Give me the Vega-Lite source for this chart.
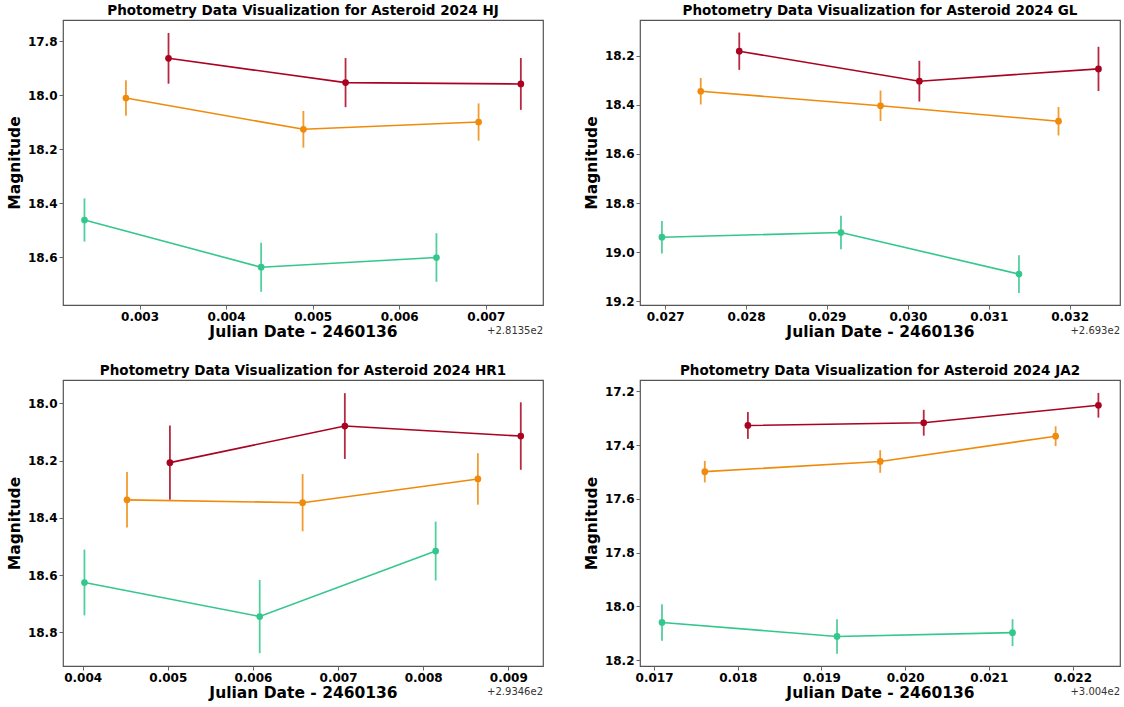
{
  "$schema": "https://vega.github.io/schema/vega-lite/v6.json",
  "background": "white",
  "padding": {"left": 6, "top": 2, "right": 5, "bottom": 2},
  "columns": 2,
  "spacing": {"row": 21, "column": 39},
  "config": {
    "font": "DejaVu Sans",
    "view": {"stroke": "#555555", "strokeWidth": 1.2},
    "axis": {
      "labelFont": "DejaVu Sans", "labelFontWeight": "bold", "labelFontSize": 12, "labelColor": "#000000",
      "titleFont": "DejaVu Sans", "titleFontSize": 15.5, "titleFontWeight": "bold", "titleColor": "#000000",
      "grid": false, "domain": false, "tickColor": "#666666", "tickSize": 4, "labelPadding": 2, "labelFlush": false, "labelOverlap": false
    },
    "axisX": {"titlePadding": 2},
    "axisY": {"titlePadding": 5},
    "title": {"font": "DejaVu Sans", "fontSize": 13.5, "fontWeight": "bold", "color": "#000000", "offset": 3, "anchor": "middle"}
  },
  "datasets": {
    "obs": [
      {"asteroid": "2024 HJ", "series": "A", "jd": 0.003335, "mag": 17.863, "err": 0.094},
      {"asteroid": "2024 HJ", "series": "A", "jd": 0.00538, "mag": 17.953, "err": 0.091},
      {"asteroid": "2024 HJ", "series": "A", "jd": 0.007405, "mag": 17.958, "err": 0.096},
      {"asteroid": "2024 HJ", "series": "B", "jd": 0.002843, "mag": 18.010, "err": 0.066},
      {"asteroid": "2024 HJ", "series": "B", "jd": 0.004893, "mag": 18.126, "err": 0.068},
      {"asteroid": "2024 HJ", "series": "B", "jd": 0.006917, "mag": 18.099, "err": 0.069},
      {"asteroid": "2024 HJ", "series": "C", "jd": 0.002364, "mag": 18.462, "err": 0.080},
      {"asteroid": "2024 HJ", "series": "C", "jd": 0.004405, "mag": 18.637, "err": 0.091},
      {"asteroid": "2024 HJ", "series": "C", "jd": 0.00643, "mag": 18.601, "err": 0.090},

      {"asteroid": "2024 GL", "series": "A", "jd": 0.027916, "mag": 18.182, "err": 0.076},
      {"asteroid": "2024 GL", "series": "A", "jd": 0.030142, "mag": 18.304, "err": 0.083},
      {"asteroid": "2024 GL", "series": "A", "jd": 0.032356, "mag": 18.254, "err": 0.090},
      {"asteroid": "2024 GL", "series": "B", "jd": 0.02744, "mag": 18.345, "err": 0.054},
      {"asteroid": "2024 GL", "series": "B", "jd": 0.029662, "mag": 18.404, "err": 0.062},
      {"asteroid": "2024 GL", "series": "B", "jd": 0.031862, "mag": 18.467, "err": 0.058},
      {"asteroid": "2024 GL", "series": "C", "jd": 0.02696, "mag": 18.939, "err": 0.066},
      {"asteroid": "2024 GL", "series": "C", "jd": 0.029173, "mag": 18.920, "err": 0.068},
      {"asteroid": "2024 GL", "series": "C", "jd": 0.031373, "mag": 19.089, "err": 0.077},

      {"asteroid": "2024 HR1", "series": "A", "jd": 0.005025, "mag": 18.207, "err": 0.130},
      {"asteroid": "2024 HR1", "series": "A", "jd": 0.00708, "mag": 18.079, "err": 0.115},
      {"asteroid": "2024 HR1", "series": "A", "jd": 0.009147, "mag": 18.114, "err": 0.118},
      {"asteroid": "2024 HR1", "series": "B", "jd": 0.004521, "mag": 18.337, "err": 0.097},
      {"asteroid": "2024 HR1", "series": "B", "jd": 0.006584, "mag": 18.347, "err": 0.100},
      {"asteroid": "2024 HR1", "series": "B", "jd": 0.008643, "mag": 18.264, "err": 0.090},
      {"asteroid": "2024 HR1", "series": "C", "jd": 0.004021, "mag": 18.626, "err": 0.115},
      {"asteroid": "2024 HR1", "series": "C", "jd": 0.00608, "mag": 18.745, "err": 0.128},
      {"asteroid": "2024 HR1", "series": "C", "jd": 0.008147, "mag": 18.516, "err": 0.103},

      {"asteroid": "2024 JA2", "series": "A", "jd": 0.018121, "mag": 17.327, "err": 0.050},
      {"asteroid": "2024 JA2", "series": "A", "jd": 0.020222, "mag": 17.317, "err": 0.048},
      {"asteroid": "2024 JA2", "series": "A", "jd": 0.022309, "mag": 17.252, "err": 0.046},
      {"asteroid": "2024 JA2", "series": "B", "jd": 0.017606, "mag": 17.499, "err": 0.040},
      {"asteroid": "2024 JA2", "series": "B", "jd": 0.019702, "mag": 17.461, "err": 0.042},
      {"asteroid": "2024 JA2", "series": "B", "jd": 0.021798, "mag": 17.367, "err": 0.037},
      {"asteroid": "2024 JA2", "series": "C", "jd": 0.017095, "mag": 18.060, "err": 0.068},
      {"asteroid": "2024 JA2", "series": "C", "jd": 0.019186, "mag": 18.112, "err": 0.064},
      {"asteroid": "2024 JA2", "series": "C", "jd": 0.021283, "mag": 18.098, "err": 0.050}
    ]
  },
  "concat": [
    {
      "title": "Photometry Data Visualization for Asteroid 2024 HJ",
      "width": 480, "height": 285,
      "layer": [
        {
          "data": {"name": "obs"},
          "transform": [{"filter": "datum.asteroid === '2024 HJ'"}],
          "encoding": {
            "x": {"field": "jd", "type": "quantitative", "scale": {"domain": [0.002116, 0.007661], "nice": false, "zero": false}, "axis": {"title": "Julian Date - 2460136", "values": [0.003, 0.004, 0.005, 0.006, 0.007], "format": ".3f"}},
            "y": {"field": "mag", "type": "quantitative", "scale": {"domain": [17.721, 18.777], "nice": false, "zero": false, "reverse": true}, "axis": {"title": "Magnitude", "values": [17.8, 18.0, 18.2, 18.4, 18.6], "format": ".1f"}},
            "color": {"field": "series", "type": "nominal", "scale": {"domain": ["A", "B", "C"], "range": ["#a90322", "#f08a0b", "#34c78d"]}, "legend": null}
          },
          "layer": [
            {"mark": {"type": "errorbar", "thickness": 1.8, "opacity": 0.85}, "encoding": {"yError": {"field": "err"}}},
            {"mark": {"type": "line", "strokeWidth": 1.6}},
            {"mark": {"type": "circle", "size": 45, "opacity": 1}}
          ]
        },
        {
          "data": {"values": [{"t": "+2.8135e2"}]},
          "mark": {"type": "text", "align": "right", "baseline": "middle", "dy": 26, "fontSize": 10, "color": "#333333"},
          "encoding": {"x": {"datum": 0.007661}, "y": {"datum": 18.777}, "text": {"field": "t"}}
        }
      ]
    },
    {
      "title": "Photometry Data Visualization for Asteroid 2024 GL",
      "width": 480, "height": 285,
      "layer": [
        {
          "data": {"name": "obs"},
          "transform": [{"filter": "datum.asteroid === '2024 GL'"}],
          "encoding": {
            "x": {"field": "jd", "type": "quantitative", "scale": {"domain": [0.026689, 0.032622], "nice": false, "zero": false}, "axis": {"title": "Julian Date - 2460136", "values": [0.027, 0.028, 0.029, 0.030, 0.031, 0.032], "format": ".3f"}},
            "y": {"field": "mag", "type": "quantitative", "scale": {"domain": [18.055, 19.215], "nice": false, "zero": false, "reverse": true}, "axis": {"title": "Magnitude", "values": [18.2, 18.4, 18.6, 18.8, 19.0, 19.2], "format": ".1f"}},
            "color": {"field": "series", "type": "nominal", "scale": {"domain": ["A", "B", "C"], "range": ["#a90322", "#f08a0b", "#34c78d"]}, "legend": null}
          },
          "layer": [
            {"mark": {"type": "errorbar", "thickness": 1.8, "opacity": 0.85}, "encoding": {"yError": {"field": "err"}}},
            {"mark": {"type": "line", "strokeWidth": 1.6}},
            {"mark": {"type": "circle", "size": 45, "opacity": 1}}
          ]
        },
        {
          "data": {"values": [{"t": "+2.693e2"}]},
          "mark": {"type": "text", "align": "right", "baseline": "middle", "dy": 26, "fontSize": 10, "color": "#333333"},
          "encoding": {"x": {"datum": 0.032622}, "y": {"datum": 19.215}, "text": {"field": "t"}}
        }
      ]
    },
    {
      "title": "Photometry Data Visualization for Asteroid 2024 HR1",
      "width": 480, "height": 286,
      "layer": [
        {
          "data": {"name": "obs"},
          "transform": [{"filter": "datum.asteroid === '2024 HR1'"}],
          "encoding": {
            "x": {"field": "jd", "type": "quantitative", "scale": {"domain": [0.003769, 0.009408], "nice": false, "zero": false}, "axis": {"title": "Julian Date - 2460136", "values": [0.004, 0.005, 0.006, 0.007, 0.008, 0.009], "format": ".3f"}},
            "y": {"field": "mag", "type": "quantitative", "scale": {"domain": [17.918, 18.918], "nice": false, "zero": false, "reverse": true}, "axis": {"title": "Magnitude", "values": [18.0, 18.2, 18.4, 18.6, 18.8], "format": ".1f"}},
            "color": {"field": "series", "type": "nominal", "scale": {"domain": ["A", "B", "C"], "range": ["#a90322", "#f08a0b", "#34c78d"]}, "legend": null}
          },
          "layer": [
            {"mark": {"type": "errorbar", "thickness": 1.8, "opacity": 0.85}, "encoding": {"yError": {"field": "err"}}},
            {"mark": {"type": "line", "strokeWidth": 1.6}},
            {"mark": {"type": "circle", "size": 45, "opacity": 1}}
          ]
        },
        {
          "data": {"values": [{"t": "+2.9346e2"}]},
          "mark": {"type": "text", "align": "right", "baseline": "middle", "dy": 26, "fontSize": 10, "color": "#333333"},
          "encoding": {"x": {"datum": 0.009408}, "y": {"datum": 18.918}, "text": {"field": "t"}}
        }
      ]
    },
    {
      "title": "Photometry Data Visualization for Asteroid 2024 JA2",
      "width": 480, "height": 286,
      "layer": [
        {
          "data": {"name": "obs"},
          "transform": [{"filter": "datum.asteroid === '2024 JA2'"}],
          "encoding": {
            "x": {"field": "jd", "type": "quantitative", "scale": {"domain": [0.016832, 0.022567], "nice": false, "zero": false}, "axis": {"title": "Julian Date - 2460136", "values": [0.017, 0.018, 0.019, 0.020, 0.021, 0.022], "format": ".3f"}},
            "y": {"field": "mag", "type": "quantitative", "scale": {"domain": [17.158, 18.222], "nice": false, "zero": false, "reverse": true}, "axis": {"title": "Magnitude", "values": [17.2, 17.4, 17.6, 17.8, 18.0, 18.2], "format": ".1f"}},
            "color": {"field": "series", "type": "nominal", "scale": {"domain": ["A", "B", "C"], "range": ["#a90322", "#f08a0b", "#34c78d"]}, "legend": null}
          },
          "layer": [
            {"mark": {"type": "errorbar", "thickness": 1.8, "opacity": 0.85}, "encoding": {"yError": {"field": "err"}}},
            {"mark": {"type": "line", "strokeWidth": 1.6}},
            {"mark": {"type": "circle", "size": 45, "opacity": 1}}
          ]
        },
        {
          "data": {"values": [{"t": "+3.004e2"}]},
          "mark": {"type": "text", "align": "right", "baseline": "middle", "dy": 26, "fontSize": 10, "color": "#333333"},
          "encoding": {"x": {"datum": 0.022567}, "y": {"datum": 18.222}, "text": {"field": "t"}}
        }
      ]
    }
  ]
}
